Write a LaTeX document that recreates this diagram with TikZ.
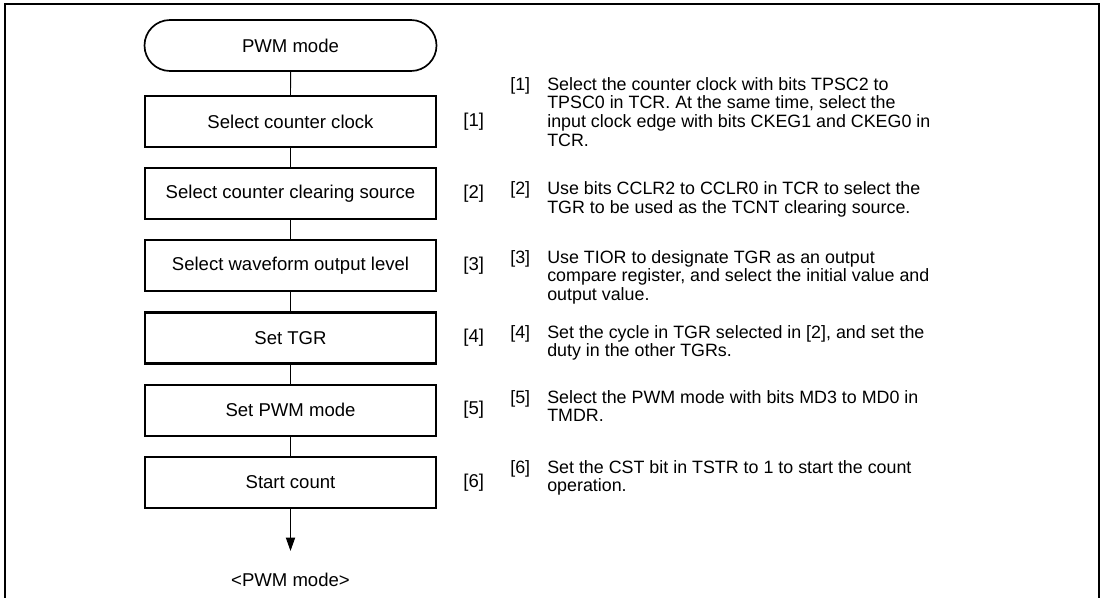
\documentclass[tikz,border=0pt]{standalone}
\usepackage{fontspec}
\setmainfont{Liberation Sans}
\usetikzlibrary{positioning,arrows.meta,shapes.misc}

\begin{document}
\begin{tikzpicture}[
    font=\fontsize{13.2}{12.8}\selectfont, >={Triangle[length=9.5pt,width=6.6pt]},
    term/.style={draw, line width=1.2pt, rounded rectangle, inner sep=0pt,
                 minimum width=7.3cm, minimum height=1.275cm},
    box/.style={draw, line width=1.5pt, inner sep=0pt,
                minimum width=7.275cm, minimum height=1.275cm},
    num/.style={inner sep=0pt, anchor=north west, font=\fontsize{12.7}{13.3}\selectfont},
    desc/.style={inner sep=0pt, anchor=north west, align=left, font=\fontsize{12.7}{13.3}\selectfont},
    flow/.style={draw, line width=0.7pt},
]
\useasboundingbox (0,0) rectangle (27.575,-14.925);
% outer frame, open at the bottom
\draw[line width=1.4pt] (0.125,-15.3) |- (27.475,-0.1) -- (27.475,-15.3);

% flow chart
\node[term] (term) at (7.2625,-1.1375) {PWM mode};
\node[box, below=0.575cm of term] (s1) {Select counter clock};
\node[box, below=0.477cm of s1] (s2) {Select counter clearing source};
\node[box, below=0.477cm of s2] (s3) {Select waveform output level};
\node[box, below=0.477cm of s3] (s4) {Set TGR};
\node[box, below=0.477cm of s4] (s5) {Set PWM mode};
\node[box, below=0.477cm of s5] (s6) {Start count};
\coordinate[below=1.05cm of s6] (pend);
\node[inner sep=0pt, below=0.54cm of pend] (pout) {<PWM mode>};

\draw[flow] (term) -- (s1);
\draw[flow] (s1) -- (s2);
\draw[flow] (s2) -- (s3);
\draw[flow] (s3) -- (s4);
\draw[flow] (s4) -- (s5);
\draw[flow] (s5) -- (s6);
\draw[flow, ->] (s6) -- (pend);

% step numbers beside the boxes
\foreach \i in {1,...,6}
    \node[inner sep=0pt, right=0.65cm of s\i] (t\i) {[\i]};

% notes
\node[num] (n1) at (12.75,-1.92) {[1]};
\node[desc] (d1) at ([xshift=9.25mm]n1.north west)
    {Select the counter clock with bits TPSC2 to\\TPSC0 in TCR. At the same time, select the\\input clock edge with bits CKEG1 and CKEG0 in\\TCR.};
\node[num] (n2) at (12.75,-4.53) {[2]};
\node[desc] (d2) at ([xshift=9.25mm]n2.north west)
    {Use bits CCLR2 to CCLR0 in TCR to select the\\TGR to be used as the TCNT clearing source.};
\node[num] (n3) at (12.75,-6.25) {[3]};
\node[desc] (d3) at ([xshift=9.25mm]n3.north west)
    {Use TIOR to designate TGR as an output\\compare register, and select the initial value and\\output value.};
\node[num] (n4) at (12.75,-8.12) {[4]};
\node[desc] (d4) at ([xshift=9.25mm]n4.north west)
    {Set the cycle in TGR selected in [2], and set the\\duty in the other TGRs.};
\node[num] (n5) at (12.75,-9.75) {[5]};
\node[desc] (d5) at ([xshift=9.25mm]n5.north west)
    {Select the PWM mode with bits MD3 to MD0 in\\TMDR.};
\node[num] (n6) at (12.75,-11.50) {[6]};
\node[desc] (d6) at ([xshift=9.25mm]n6.north west)
    {Set the CST bit in TSTR to 1 to start the count\\operation.};
\end{tikzpicture}
\end{document}
